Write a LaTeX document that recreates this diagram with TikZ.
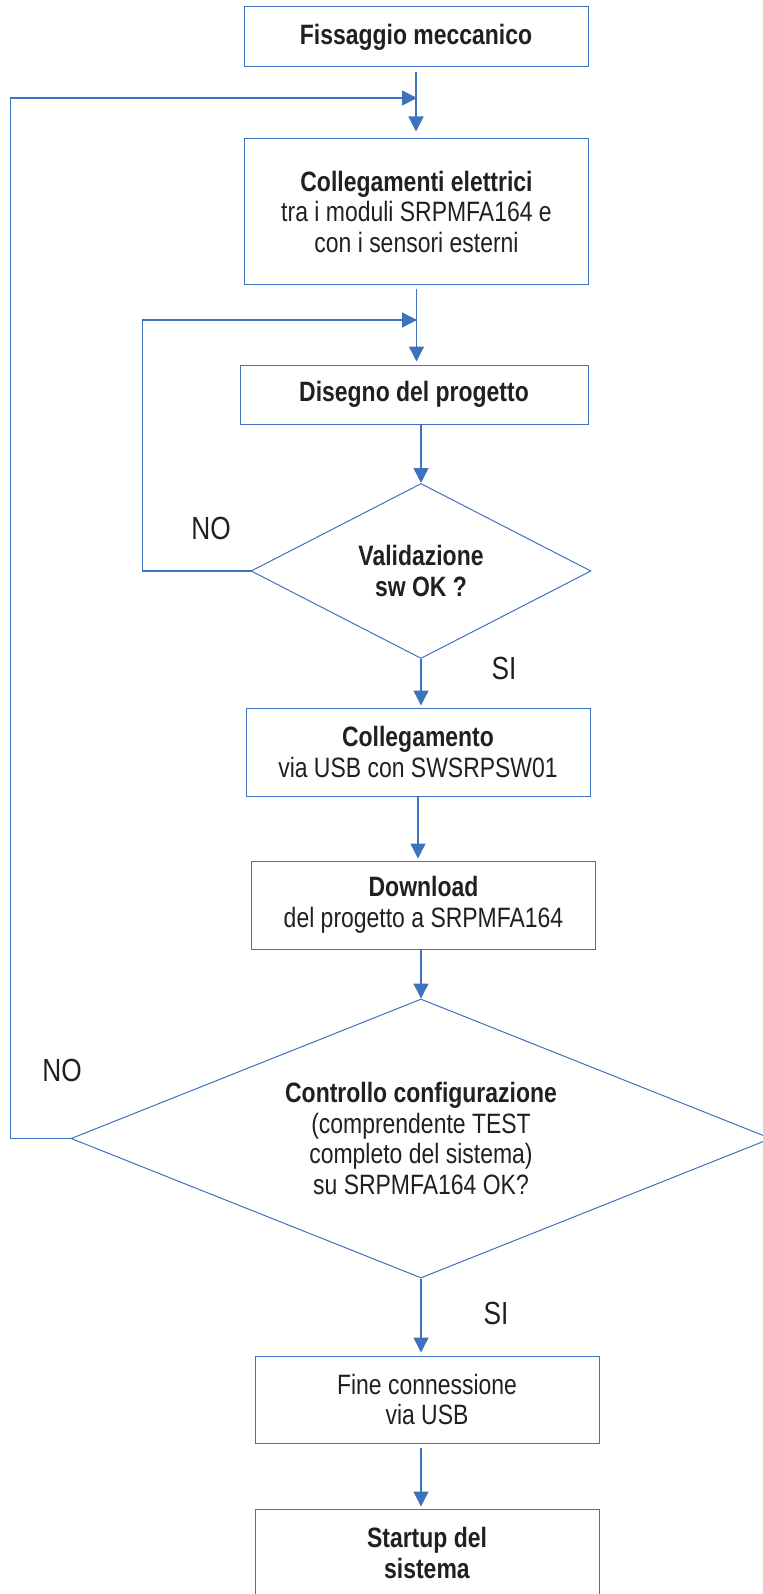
\documentclass[tikz,border=0pt]{standalone}
\usepackage{fontspec}
\setmainfont[FakeStretch=0.82]{Liberation Sans}
\usetikzlibrary{shapes,arrows.meta,positioning,calc}
\definecolor{flowblue}{RGB}{62,114,189}
\definecolor{flowtext}{RGB}{35,31,32}

\begin{document}
\begin{tikzpicture}[x=0.5pt, y=-0.5pt,
  procbox/.style={draw=flowblue, line width=0.5pt, rectangle, minimum width=172pt, inner sep=0pt, align=center, text=flowtext, font=\fontsize{14}{15.25}\selectfont},
  decision/.style={draw=flowblue, line width=0.5pt, diamond, inner sep=0pt, align=center, text=flowtext, font=\fontsize{14}{15.25}\selectfont},
  flow/.style={flowblue, line width=0.7pt, -{Triangle[width=7.5pt,length=7.5pt]}},
  answer/.style={text=flowtext, font=\fontsize{16}{18}\selectfont}]
\useasboundingbox (0,0) rectangle (762,1594);

% Fissaggio
\node[procbox, minimum height=30pt] (fix) at (416,37) {\textbf{Fissaggio meccanico}};

% Collegamenti elettrici
\node[procbox, minimum height=72.5pt] (wiring) at (416.5,211.5) {
\textbf{Collegamenti elettrici} \\
tra i moduli SRPMFA164 e \\
con i sensori esterni
};

% Disegno
\node[procbox, minimum width=174pt, minimum height=29.5pt] (design) at (414,394.5) {\textbf{Disegno del progetto}};

% Validazione sw
\node[decision, minimum width=170pt, minimum height=87.5pt, aspect=1.94] (swcheck) at (421,571) {
\textbf{Validazione} \\
\textbf{sw OK ?}
};

% Collegamento USB
\node[procbox, minimum height=44pt] (usblink) at (418,752) {
\textbf{Collegamento} \\
via USB con SWSRPSW01
};

% Download
\node[procbox, minimum height=44pt] (download) at (423.5,905) {
\textbf{Download} \\
del progetto a SRPMFA164
};

% Controllo configurazione
\node[decision, minimum width=350pt, minimum height=139.5pt, aspect=2.5] (cfgcheck) at (421,1138.5) {
\textbf{Controllo configurazione} \\
(comprendente TEST \\
completo del sistema) \\
su SRPMFA164 OK?
};

% Fine connessione
\node[procbox, minimum height=43.5pt] (usbend) at (427,1399.5) {
Fine connessione \\
via USB
};

% Startup
\node[procbox, minimum height=44pt] (startup) at (427,1553) {
\textbf{Startup del} \\
\textbf{sistema}
};

% risposte
\node[answer] (no1) at (211,528) {NO};
\node[answer] (si1) at (504,668) {SI};
\node[answer] (no2) at (62,1070) {NO};
\node[answer] (si2) at (496,1313) {SI};

% punti di rientro
\coordinate (join1) at (417,98);
\coordinate (join2) at (417,320);

% frecce
\draw[flow, shorten <=2.5pt, shorten >=3.5pt] (fix.south) -- (fix.south |- wiring.north);
\draw[flow, shorten <=2pt, shorten >=1.5pt] (wiring.south) -- (wiring.south |- design.north);
\draw[flow] (swcheck.north |- design.south) -- (swcheck.north);
\draw[flow, shorten >=1pt] (swcheck.south) -- (swcheck.south |- usblink.north);
\draw[flow, shorten >=1pt] (usblink.south) -- (usblink.south |- download.north);
\draw[flow] (cfgcheck.north |- download.south) -- (cfgcheck.north);
\draw[flow, shorten >=1.5pt] (cfgcheck.south) -- (cfgcheck.south |- usbend.north);
\draw[flow, shorten <=2pt, shorten >=1pt] (usbend.south -| cfgcheck.south) -- (startup.north -| cfgcheck.south);
\draw[flow] (swcheck.west) -- ++(-108,0) |- (join2);
\draw[flow] (cfgcheck.west) -- ++(-60,0) |- (join1);
\end{tikzpicture}
\end{document}
